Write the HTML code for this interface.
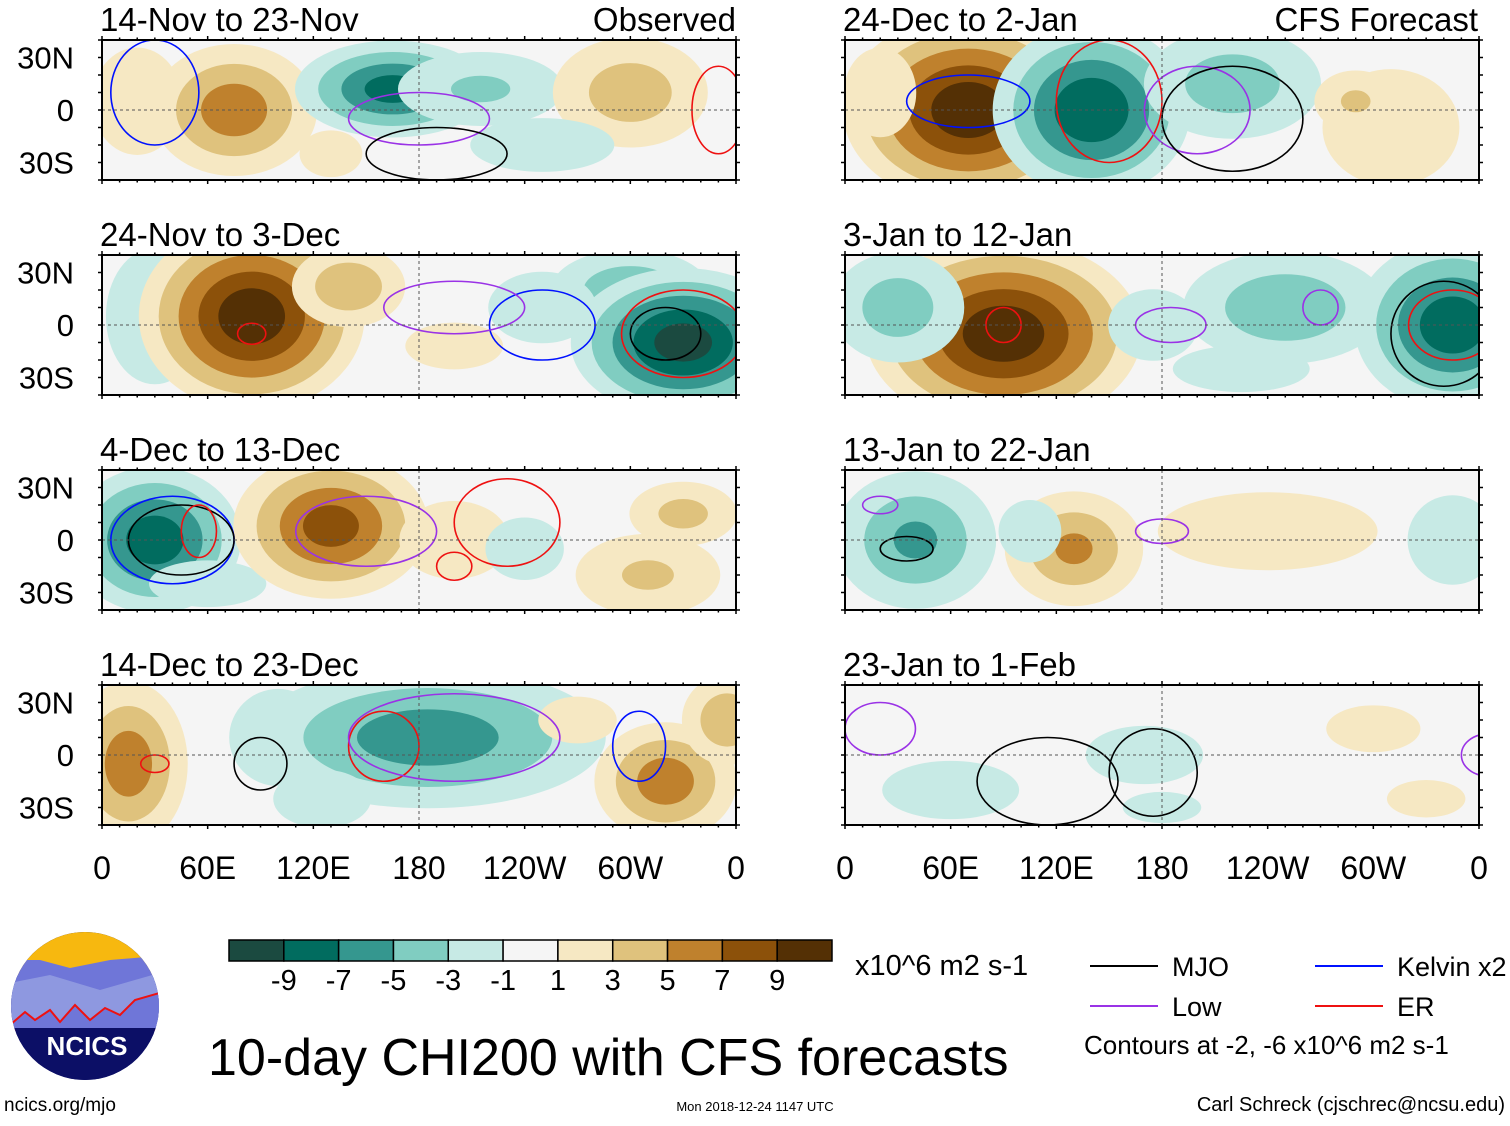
<!DOCTYPE html>
<html><head><meta charset="utf-8"><style>
body{margin:0;background:#fff;}
svg text{font-family:"Liberation Sans",sans-serif;}
</style></head><body>
<svg id="c" width="1510" height="1121" xmlns="http://www.w3.org/2000/svg"></svg>
<script>
// ---- data ----
const panelTitles=["14-Nov to 23-Nov","24-Nov to 3-Dec","4-Dec to 13-Dec","14-Dec to 23-Dec","24-Dec to 2-Jan","3-Jan to 12-Jan","13-Jan to 22-Jan","23-Jan to 1-Feb"];
const lonTicks=[0,60,120,180,240,300,360];
const lonLabels=["0","60E","120E","180","120W","60W","0"];
const latTicks=[30,0,-30];
const latLabels=["30N","0","30S"];
const cbLevels=[-9,-7,-5,-3,-1,1,3,5,7,9];
const cbColors=["#1b4a40","#016c5f","#35978f","#80cdc1","#c7eae5","#f5f5f5","#f6e8c3","#dfc27d","#bf812d","#8c510a","#543005"];
// anomaly blobs per panel: [lon, lat, rxDeg, ryDeg, peak]
const blobs=[
 [[20,5,25,30,2.5],[75,0,35,28,6.5],[165,12,40,20,-8],[215,12,40,18,-3.5],[300,10,35,25,4.5],[250,-20,40,15,-2.5],[130,-25,20,15,2]],
 [[30,5,25,35,-3],[85,5,45,38,10.5],[140,22,25,18,5],[200,-12,25,12,3],[300,20,35,18,-5],[330,-10,45,30,-10],[250,10,30,20,-2.5]],
 [[30,0,35,30,-8.5],[60,-25,30,12,-3],[130,8,40,30,8],[200,0,35,25,2],[310,-20,35,20,3.5],[330,15,25,15,4],[240,-5,25,20,-2]],
 [[15,-5,25,35,6.5],[100,10,25,25,-3],[185,10,75,30,-6.5],[125,-25,25,15,-3],[320,-15,30,25,6.5],[355,20,20,20,5],[270,20,25,15,2]],
 [[70,0,50,38,10.5],[140,0,40,35,-9],[220,15,40,25,-4.5],[310,-10,35,30,3],[290,5,20,15,3.5],[20,10,20,25,2.5]],
 [[90,-5,55,38,10.5],[30,10,30,25,-4.5],[250,10,45,25,-5],[345,0,40,35,-8.5],[225,-25,35,12,-3],[175,0,25,20,-2.5]],
 [[40,0,35,30,-5.5],[130,-5,30,25,5.5],[240,5,70,25,2],[345,0,25,25,-2.5],[105,5,20,20,-2]],
 [[60,-20,35,15,-3],[170,0,30,15,-3],[300,15,30,15,2],[180,-30,25,10,-2],[330,-25,25,12,2]]
];
// contours: [lon, lat, rxDeg, ryDeg, colorIndex] (0 MJO,1 Low,2 Kelvin,3 ER)
const contours=[
 [[30,10,25,30,2],[180,-5,40,15,1],[190,-25,40,15,0],[350,0,15,25,3]],
 [[85,-5,8,6,3],[250,0,30,20,2],[320,-5,20,15,0],[330,-5,35,25,3],[200,10,40,15,1]],
 [[40,0,35,25,2],[45,0,30,20,0],[55,5,10,15,3],[150,5,40,20,1],[230,10,30,25,3],[200,-15,10,8,3]],
 [[90,-5,15,15,0],[160,5,20,20,3],[200,10,60,25,1],[305,5,15,20,2],[30,-5,8,5,3]],
 [[70,5,35,15,2],[150,5,30,35,3],[200,0,30,25,1],[220,-5,40,30,0]],
 [[90,0,10,10,3],[185,0,20,10,1],[270,10,10,10,1],[340,-5,30,30,0],[345,0,25,20,3]],
 [[20,20,10,5,1],[35,-5,15,7,0],[180,5,15,7,1]],
 [[20,15,20,15,1],[115,-15,40,25,0],[175,-10,25,25,0],[365,0,15,12,1]]
];
const contourColors=["#000","#9a32e6","#0011ff","#ee1111"];
// ---- layout ----
const svg=document.getElementById('c');
const NS="http://www.w3.org/2000/svg";
function el(t,a,p){const e=document.createElementNS(NS,t);for(const k in a)e.setAttribute(k,a[k]);(p||svg).appendChild(e);return e;}
const colX=[102,845],rowY=[40,255,470,685],PW=634,PH=140,SPREAD=1.55;
function colorFor(v){let i=0;while(i<cbLevels.length&&v>cbLevels[i])i++;return cbColors[i];}
for(let p=0;p<8;p++){
 const x0=colX[p<4?0:1],y0=rowY[p%4];
 const xs=lon=>x0+lon/360*PW, ys=lat=>y0+(40-lat)/80*PH;
 const g=el('g',{});
 
 
 const cp=el('clipPath',{id:'cp'+p},g);el('rect',{x:x0,y:y0,width:PW,height:PH},cp);
 const inner=el('g',{'clip-path':'url(#cp'+p+')'},g);
 el('rect',{x:x0,y:y0,width:PW,height:PH,fill:'#f5f5f5'},inner);
 blobs[p].forEach(b=>{
  const [lon,lat,rx,ry,pk]=b;const s=Math.sign(pk);
  const th=cbLevels.filter(l=>s>0?(l>0&&l<pk):(l<0&&l>pk));
  if(s<0)th.reverse();
  th.forEach(t=>{
   const f=(1-Math.abs(t)/Math.abs(pk)*0.85)*SPREAD;
   const e=el('ellipse',{cx:xs(lon),cy:ys(lat),rx:rx*f/360*PW,ry:ry*f/80*PH,fill:colorFor(t+s)},inner);
   
   
  });
 });
 contours[p].forEach(c=>{
  const e=el('ellipse',{cx:xs(c[0]),cy:ys(c[1]),rx:c[2]/360*PW,ry:c[3]/80*PH,fill:'none',stroke:contourColors[c[4]],'stroke-width':1.6},inner);
  
  
 });
 el('line',{x1:x0,x2:x0+PW,y1:ys(0),y2:ys(0),stroke:'#555','stroke-dasharray':'3,3','stroke-width':1},inner);
 el('line',{x1:xs(180),x2:xs(180),y1:y0,y2:y0+PH,stroke:'#555','stroke-dasharray':'3,3','stroke-width':1},inner);
 el('rect',{x:x0,y:y0,width:PW,height:PH,fill:'none',stroke:'#000','stroke-width':2},g);
 for(let l=0;l<=360;l+=10){const L=l%60===0?8:5;
  el('line',{x1:xs(l),x2:xs(l),y1:y0,y2:y0-L/2,stroke:'#000','stroke-width':1.5},g);
  el('line',{x1:xs(l),x2:xs(l),y1:y0+PH,y2:y0+PH+L/2,stroke:'#000','stroke-width':1.5},g);}
 for(let l=-40;l<=40;l+=10){el('line',{x1:x0,x2:x0-4,y1:ys(l),y2:ys(l),stroke:'#000','stroke-width':1.5},g);el('line',{x1:x0+PW,x2:x0+PW+4,y1:ys(l),y2:ys(l),stroke:'#000','stroke-width':1.5},g);}
 if(p<4)latTicks.forEach((lt,i)=>{const t=el('text',{x:x0-28,y:ys(lt)+11,'font-size':31,'text-anchor':'end'},g);t.textContent=latLabels[i];});
 const tt=el('text',{x:x0-2,y:y0-9,'font-size':33},g);tt.textContent=panelTitles[p];
 
 if(p%4===3){lonTicks.forEach((l,i)=>{const t=el('text',{x:xs(l),y:879,'font-size':32,'text-anchor':'middle'},g);t.textContent=lonLabels[i];});}
}
function txt(x,y,s,str,anchor,name){const t=el('text',{x:x,y:y,'font-size':s,'text-anchor':anchor||'start'});t.textContent=str;return t;}
txt(736,31,33,"Observed","end","observed-label");
txt(1478,31,33,"CFS Forecast","end","cfs-forecast-label");
// colorbar
const cbx=229,cbw=603/11;
cbColors.forEach((c,i)=>{const r=el('rect',{x:cbx+i*cbw,y:940,width:cbw,height:21,fill:c,stroke:'#000','stroke-width':1.5});
 });
cbLevels.forEach((l,i)=>{txt(cbx+(i+1)*cbw,990,29,String(l),"middle","colorbar-label");});
txt(855,975,29,"x10^6 m2 s-1","start","units-label");
txt(208,1075,52,"10-day CHI200 with CFS forecasts","start","main-title");
// legend
[[1090,966,0,"MJO"],[1090,1006,1,"Low"],[1315,966,2,"Kelvin x2"],[1315,1006,3,"ER"]].forEach(l=>{
 el('line',{x1:l[0],x2:l[0]+68,y1:l[1],y2:l[1],stroke:contourColors[l[2]],'stroke-width':2});
 txt(l[0]+82,l[1]+10,27,l[3],"start","legend-entry");});
txt(1084,1054,26,"Contours at -2, -6 x10^6 m2 s-1","start","contour-note");
txt(4,1111,19,"ncics.org/mjo","start","url-label");
txt(755,1111,13,"Mon 2018-12-24 1147 UTC","middle","timestamp");
txt(1505,1111,20,"Carl Schreck (cjschrec@ncsu.edu)","end","author-label");
// logo
const lg=el('g',{});
const lcp=el('clipPath',{id:'lcp'},lg);el('ellipse',{cx:85,cy:1006,rx:74,ry:74},lcp);
const li=el('g',{'clip-path':'url(#lcp)'},lg);
el('rect',{x:0,y:930,width:170,height:160,fill:'#0c0f66'},li);
el('rect',{x:0,y:930,width:170,height:45,fill:'#f7b80f'},li);
el('polygon',{points:"0,960 40,960 70,968 110,960 170,955 170,1000 0,1000",fill:'#6f76d8'},li);
el('polygon',{points:"0,985 50,975 100,990 170,970 170,1025 0,1025",fill:'#8e98e0'},li);
el('polyline',{points:"10,1025 25,1012 35,1020 50,1010 60,1022 75,1005 90,1020 105,1008 120,1015 135,1000 170,990 170,1030 0,1030",fill:'#6f76d8',stroke:'#e11','stroke-width':2},li);
el('rect',{x:0,y:1028,width:170,height:60,fill:'#0c0f66'},li);
const lt=el('text',{x:87,y:1055,'font-size':26,'font-weight':'bold',fill:'#fff','text-anchor':'middle'},lg);lt.textContent="NCICS";
</script>
</body></html>
